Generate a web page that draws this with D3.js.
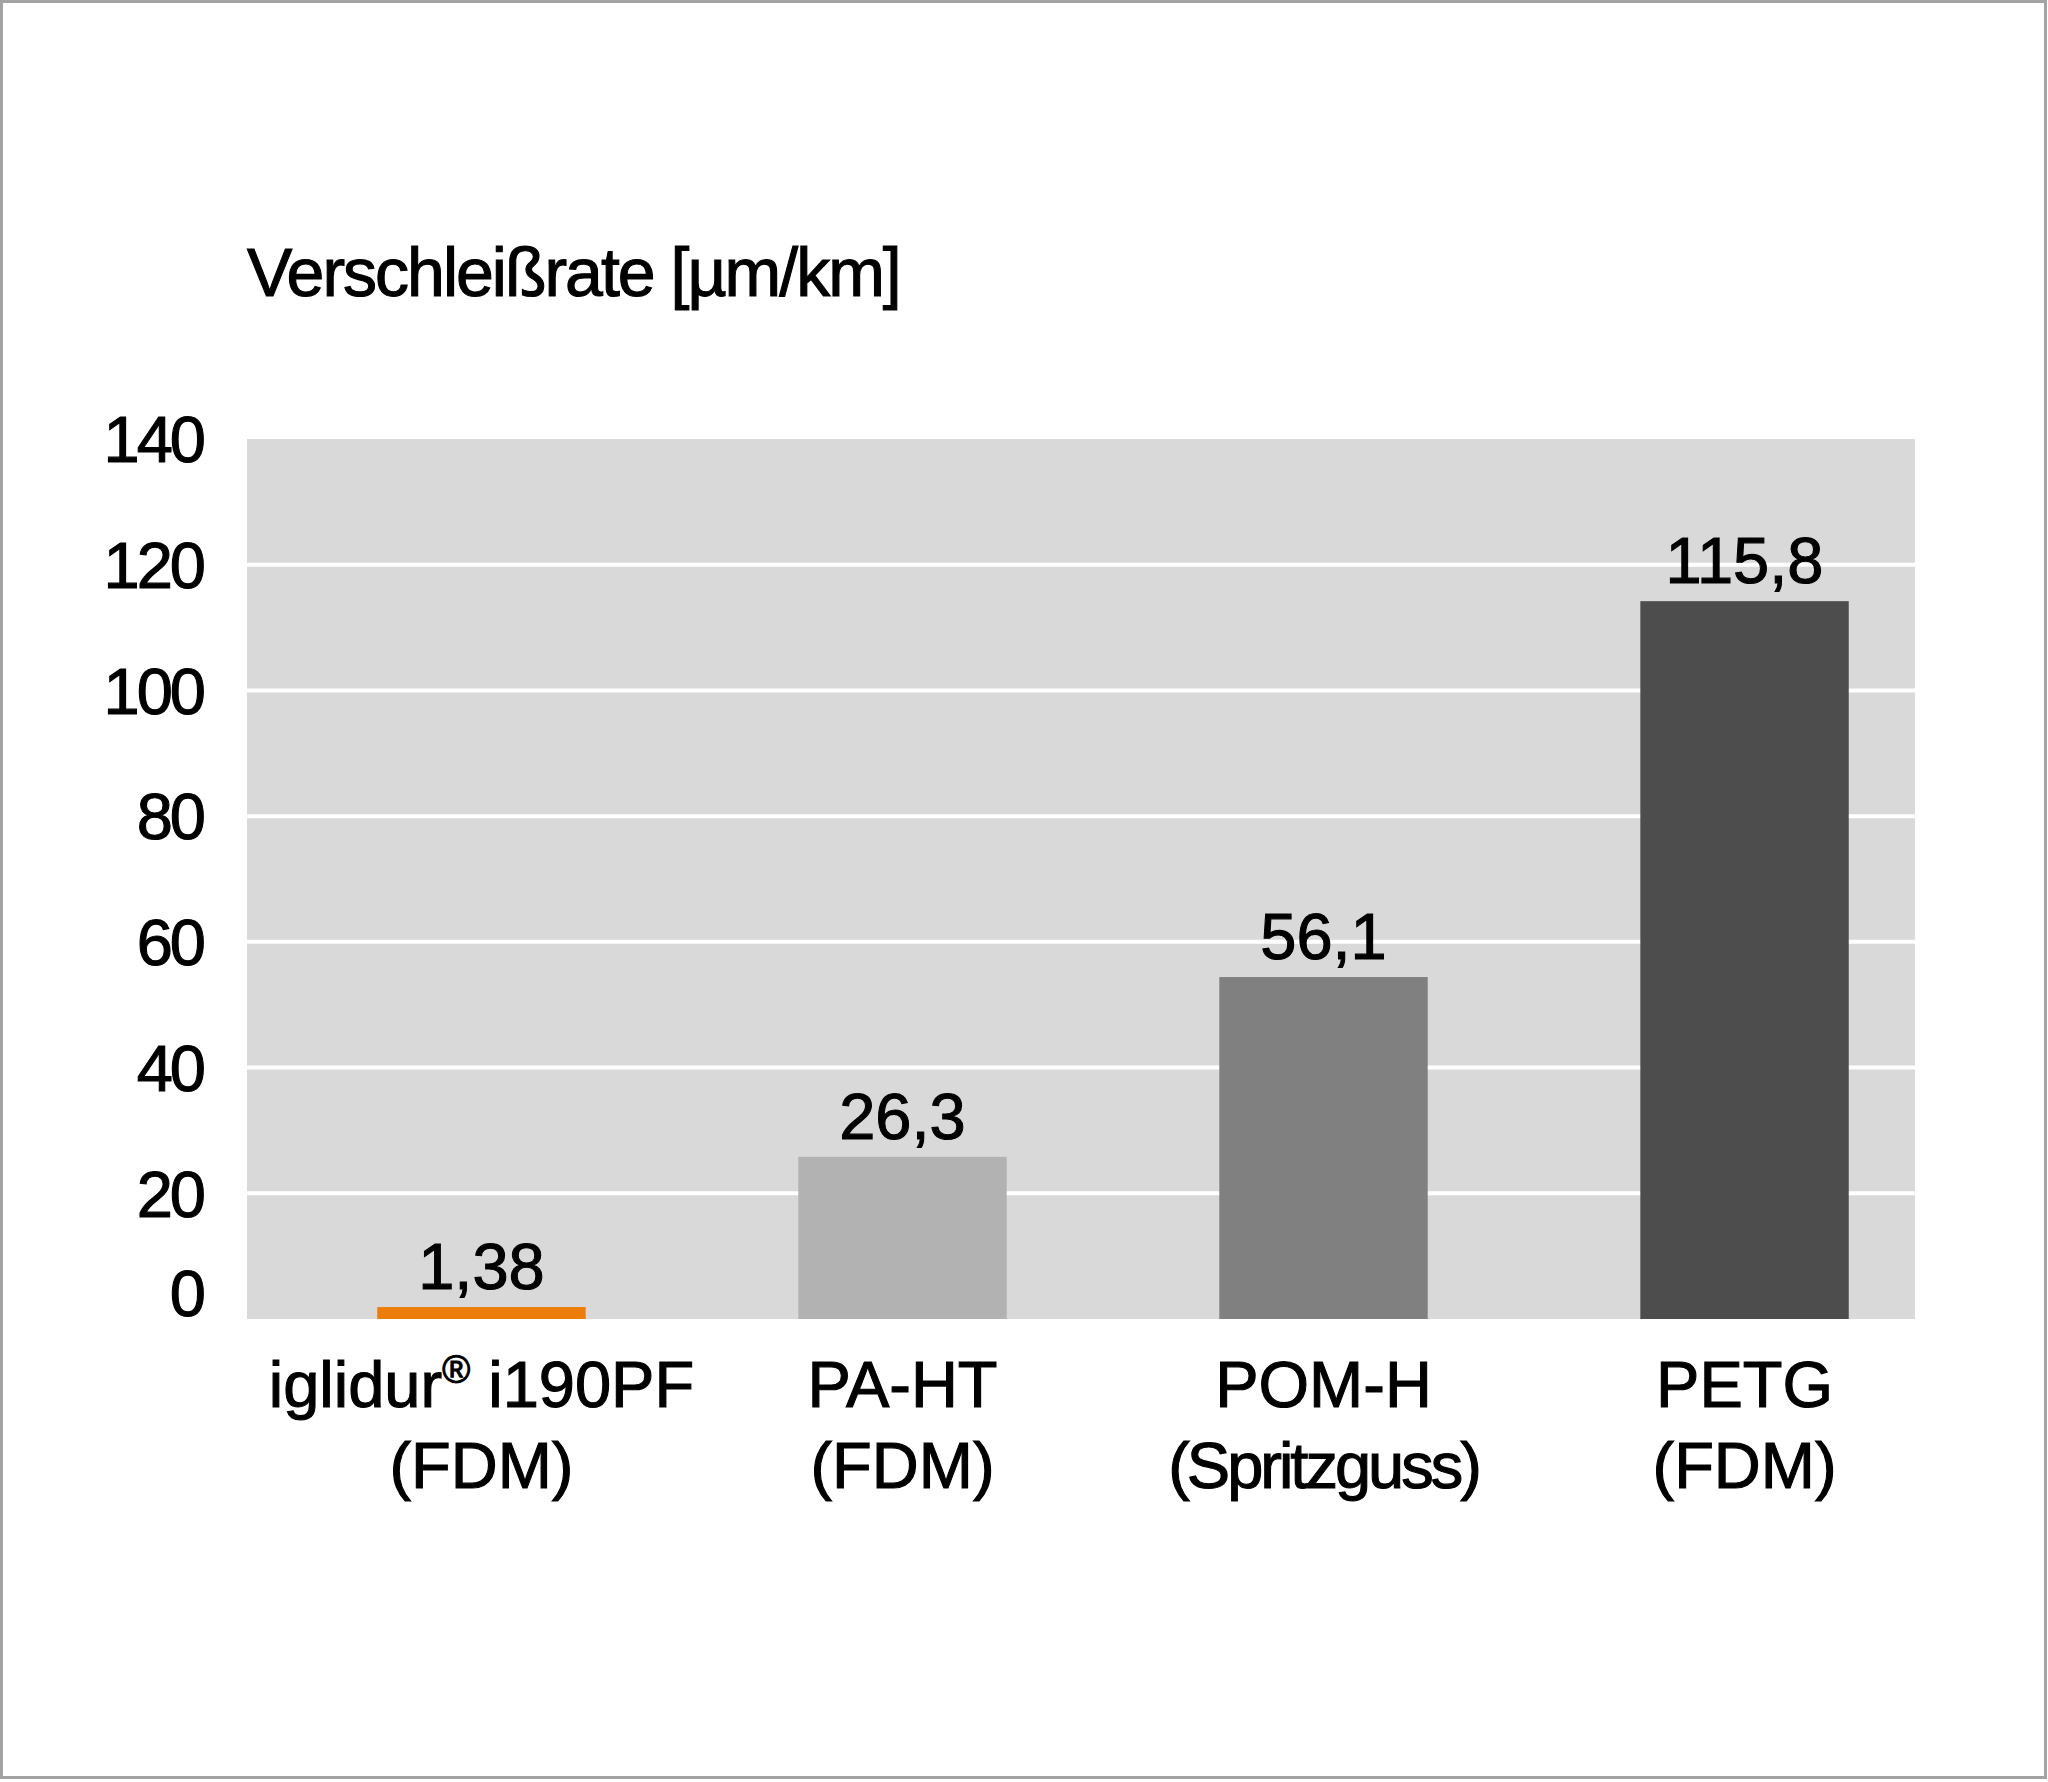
<!DOCTYPE html>
<html>
<head>
<meta charset="utf-8">
<script src="https://cdn.jsdelivr.net/npm/d3@7"></script>
<style>
  body { margin: 0; background: #fff; }
  svg text { font-family: "Liberation Sans", Arial, Helvetica, sans-serif; fill: #000; stroke: #000; stroke-width: 1.1px; }
</style>
</head>
<body>
<div id="chart"></div>
<script>
  /* data */
  var materials = ["iglidur", "PA-HT", "POM-H", "PETG"]
  var subLabels = ["(FDM)", "(FDM)", "(Spritzguss)", "(FDM)"]
  var wearRates = [1.9, 25.8, 54.4, 114.2]          // bar heights as drawn
  var valueLabels = ["1,38", "26,3", "56,1", "115,8"]
  var barColors = ["#ec7d0a", "#b2b2b2", "#808080", "#4d4d4d"]
  var yTicks = [0, 20, 40, 60, 80, 100, 120, 140]
  var yTitle = "Verschleißrate [µm/km]"

  var W = 2048, H = 1782
  var plot = { left: 247, right: 1915, top: 439, bottom: 1319 }

  var svg = d3.select("#chart").append("svg")
      .attr("width", W)
      .attr("height", H)

  // frame
  svg.append("rect")
      .attr("x", 1.5).attr("y", 1.5)
      .attr("width", W - 4).attr("height", H - 6)
      .attr("fill", "#fff")
      .attr("stroke", "#a3a3a3")
      .attr("stroke-width", 3)

  var y = d3.scaleLinear().domain([0, 140]).range([plot.bottom, plot.top])
  var x = d3.scaleBand().domain(d3.range(materials.length))
      .range([272, 1954]).paddingInner(0.505).paddingOuter(0.25)

  // plot background
  svg.append("rect")
      .attr("x", plot.left).attr("y", plot.top)
      .attr("width", plot.right - plot.left)
      .attr("height", plot.bottom - plot.top)
      .attr("fill", "#d9d9d9")

  // grid lines
  svg.selectAll("line.grid")
      .data(yTicks.filter(function (t) { return t > 0 && t < 140 }))
      .enter().append("line")
      .attr("class", "grid")
      .attr("x1", plot.left).attr("x2", plot.right)
      .attr("y1", function (t) { return y(t) })
      .attr("y2", function (t) { return y(t) })
      .attr("stroke", "#fff")
      .attr("stroke-width", 4)

  // y axis labels
  var yAxis = svg.append("g")
      .attr("transform", "translate(203,0)")
      .call(d3.axisLeft(y).tickValues(yTicks).tickSize(0).tickPadding(0))
  yAxis.select(".domain").remove()
  yAxis.selectAll("text")
      .attr("font-size", 65)
      .attr("letter-spacing", -3)
      .attr("fill", "#000")
      .attr("dy", function (t) { return t === 0 ? "-0.05em" : "0.35em" })
      .style("font-family", "'Liberation Sans', Arial, sans-serif")

  // bars
  svg.selectAll("rect.bar")
      .data(wearRates)
      .enter().append("rect")
      .attr("class", "bar")
      .attr("x", function (d, i) { return x(i) })
      .attr("y", function (d) { return y(d) })
      .attr("width", x.bandwidth())
      .attr("height", function (d) { return y(0) - y(d) })
      .attr("fill", function (d, i) { return barColors[i] })

  // value labels
  svg.selectAll("text.val")
      .data(wearRates)
      .enter().append("text")
      .attr("class", "val")
      .attr("x", function (d, i) { return x(i) + x.bandwidth() / 2 })
      .attr("y", function (d) { return y(d) - 18 })
      .attr("text-anchor", "middle")
      .attr("font-size", 65)
      .text(function (d, i) { return valueLabels[i] })

  // category labels
  var cat = svg.selectAll("g.cat")
      .data(materials)
      .enter().append("g")
      .attr("class", "cat")
      .attr("transform", function (d, i) {
        return "translate(" + (x(i) + x.bandwidth() / 2) + ",0)"
      })

  var line1 = cat.append("text")
      .attr("y", 1407)
      .attr("text-anchor", "middle")
      .attr("font-size", 65)
  line1.each(function (d) {
    var t = d3.select(this)
    if (d === "iglidur") {
      t.append("tspan").text("iglidur")
      t.append("tspan").attr("font-size", 38).attr("dy", -24).text("®")
      t.append("tspan").attr("dy", 24).text(" i190PF")
    } else {
      t.text(d)
    }
  })

  cat.append("text")
      .attr("y", 1488)
      .attr("text-anchor", "middle")
      .attr("font-size", 65)
      .attr("letter-spacing", function (d, i) { return subLabels[i].length > 6 ? -3 : 0 })
      .text(function (d, i) { return subLabels[i] })

  // axis title
  svg.append("text")
      .attr("x", 247).attr("y", 296)
      .attr("font-size", 68)
      .attr("letter-spacing", -2)
      .text(yTitle)
</script>
</body>
</html>
